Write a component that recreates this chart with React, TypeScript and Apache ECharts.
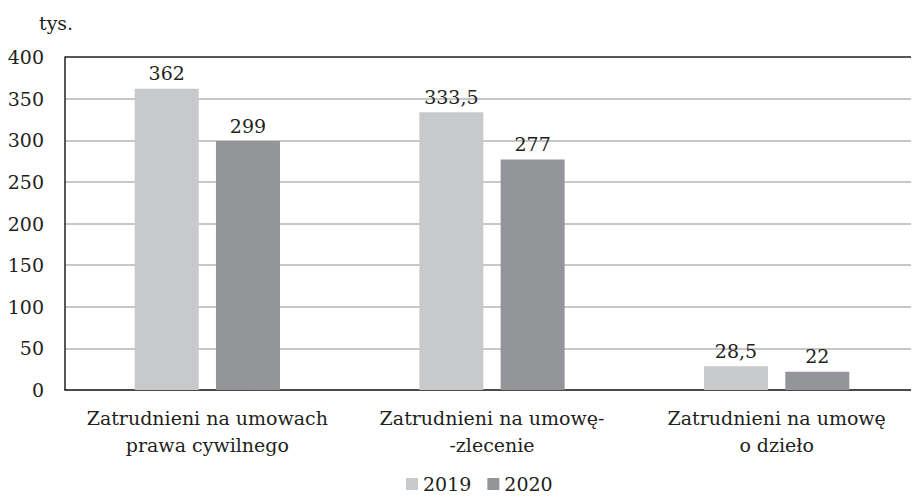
import React, { useEffect, useRef } from "react";
import * as echarts from "echarts";

const categories = [
  "Zatrudnieni na umowach\nprawa cywilnego",
  "Zatrudnieni na umowę-\n-zlecenie",
  "Zatrudnieni na umowę\no dzieło",
];
const seriesNames = ["2019", "2020"];
const values2019 = [362, 333.5, 28.5];
const values2020 = [299, 277, 22];
const unitLabel = "tys.";

const FONT = "DejaVu Serif";
const TXT = "#231f20";
const FS = 19;

export default function App() {
  const ref = useRef<HTMLDivElement>(null);
  useEffect(() => {
    if (!ref.current) return;
    const chart = echarts.init(ref.current, undefined, { renderer: "svg" });
    const fmt = (p: any) => String(p.value).replace(".", ",");
    const splitColors = [
      "#b4b4b4", "#b4b4b4", "#b4b4b4", "#b4b4b4", "#b4b4b4",
      "#b4b4b4", "#b4b4b4", "#b4b4b4", "#231f20",
    ];
    const labelStyle = {
      show: true,
      position: "top",
      distance: 6,
      formatter: fmt,
      fontFamily: FONT,
      fontSize: FS,
      color: TXT,
    };
    chart.setOption({
      animation: false,
      textStyle: { fontFamily: FONT, color: TXT },
      grid: { left: 65, top: 57, bottom: 111, right: -7, containLabel: false },
      legend: {
        bottom: 6,
        left: 406,
        padding: 0,
        itemWidth: 12,
        itemHeight: 12,
        itemGap: 16,
        icon: "rect",
        textStyle: { fontFamily: FONT, fontSize: FS, color: TXT, lineHeight: 22 },
        data: seriesNames,
      },
      graphic: [
        {
          type: "text",
          left: 39,
          top: 13,
          style: { text: unitLabel, fontFamily: FONT, fontSize: FS, fill: TXT },
        },
      ],
      xAxis: {
        type: "category",
        data: categories,
        axisLine: { show: true, lineStyle: { color: "#231f20", width: 1.5 } },
        axisTick: { show: false },
        axisLabel: {
          fontFamily: FONT,
          fontSize: FS,
          color: TXT,
          lineHeight: 27,
          margin: 14,
          interval: 0,
        },
      },
      yAxis: {
        type: "value",
        min: 0,
        max: 400,
        interval: 50,
        axisLine: { show: true, lineStyle: { color: "#231f20", width: 1.5 } },
        axisTick: { show: false },
        axisLabel: { fontFamily: FONT, fontSize: FS, color: TXT, margin: 21 },
        splitLine: { show: true, lineStyle: { color: splitColors, width: 1.5 } },
      },
      series: [
        {
          name: seriesNames[0],
          type: "bar",
          data: values2019,
          barWidth: 64,
          barGap: "27%",
          itemStyle: { color: "#c8c9cb" },
          label: labelStyle,
        },
        {
          name: seriesNames[1],
          type: "bar",
          data: values2020,
          barWidth: 64,
          barGap: "27%",
          itemStyle: { color: "#939598" },
          label: labelStyle,
        },
      ],
    });
    return () => chart.dispose();
  }, []);
  return <div ref={ref} style={{ width: 919, height: 501, margin: -8 }} />;
}
